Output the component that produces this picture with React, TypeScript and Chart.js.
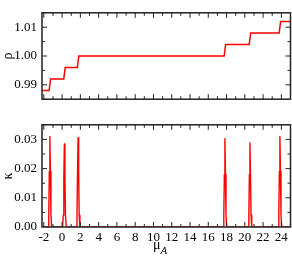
import React, { useEffect, useRef } from 'react';
import { Chart, registerables } from 'chart.js';

Chart.register(...registerables);

// ---- data ----
const rhoX = [-2.2, -1.42, -1.26, 0.18, 0.34, 1.67, 1.83, 17.74, 17.9, 20.48, 20.64, 23.76, 23.92, 25];
const rhoY = [0.988, 0.988, 0.992, 0.992, 0.996, 0.996, 1.0, 1.0, 1.004, 1.004, 1.008, 1.008, 1.012, 1.012];

const kappaX = [
  -2.2,
  -1.54, -1.46, -1.4, -1.34, -1.28, -1.22, -1.14,
  0.05, 0.13, 0.19, 0.25, 0.31, 0.37, 0.45,
  1.55, 1.63, 1.69, 1.75, 1.81, 1.87, 1.95,
  17.62, 17.7, 17.76, 17.82, 17.88, 17.94, 18.02,
  20.36, 20.44, 20.5, 20.56, 20.62, 20.68, 20.76,
  23.64, 23.72, 23.78, 23.84, 23.9, 23.96, 24.04,
  25,
];
const kappaY = [
  0,
  0, 0.004, 0.019, 0.031, 0.019, 0.004, 0,
  0, 0.004, 0.017, 0.0284, 0.017, 0.004, 0,
  0, 0.004, 0.019, 0.0306, 0.019, 0.004, 0,
  0, 0.004, 0.018, 0.0302, 0.018, 0.004, 0,
  0, 0.004, 0.018, 0.0288, 0.018, 0.004, 0,
  0, 0.004, 0.019, 0.031, 0.019, 0.004, 0,
  0,
];

const xMinVal = -2.2;
const xMaxVal = 25;
const xMajorTicks = [-2, 0, 2, 4, 6, 8, 10, 12, 14, 16, 18, 20, 22, 24];
const xMinorTicks = [-1, 1, 3, 5, 7, 9, 11, 13, 15, 17, 19, 21, 23];

const rhoMin = 0.985;
const rhoMax = 1.015;
const rhoTicks = [0.99, 1.0, 1.01];
const rhoMinor = [0.995, 1.005];

const kappaMin = 0;
const kappaMax = 0.035;
const kappaTicks = [0, 0.01, 0.02, 0.03];
const kappaMinor = [0.005, 0.015, 0.025];

const FONT = "'Liberation Serif', 'Times New Roman', serif";
const RED = '#ff0000';

function framePlugin(xMaj: number[], xMin: number[], yMaj: number[], yMin: number[]) {
  return {
    id: 'frame',
    afterDatasetsDraw(chart: any) {
      const { ctx, chartArea: a, scales } = chart;
      const xs = scales.x;
      const ys = scales.y;
      ctx.save();
      ctx.strokeStyle = '#222';
      ctx.lineWidth = 1;
      ctx.beginPath();
      const xt = (vals: number[], len: number) => {
        vals.forEach((v) => {
          const p = xs.getPixelForValue(v);
          if (p <= a.left + 1 || p >= a.right - 1) return;
          ctx.moveTo(p, a.bottom);
          ctx.lineTo(p, a.bottom - len);
          ctx.moveTo(p, a.top);
          ctx.lineTo(p, a.top + len);
        });
      };
      const yt = (vals: number[], len: number) => {
        vals.forEach((v) => {
          const p = ys.getPixelForValue(v);
          if (p <= a.top + 1 || p >= a.bottom - 1) return;
          ctx.moveTo(a.left, p);
          ctx.lineTo(a.left + len, p);
          ctx.moveTo(a.right, p);
          ctx.lineTo(a.right - len, p);
        });
      };
      xt(xMaj, 5);
      xt(xMin, 3);
      yt(yMaj, 5);
      yt(yMin, 3);
      ctx.stroke();
      ctx.lineWidth = 1.5;
      ctx.strokeRect(a.left, a.top, a.right - a.left, a.bottom - a.top);
      ctx.restore();
    },
  };
}

function makePoints(xs: number[], ys: number[]) {
  return xs.map((x, i) => ({ x, y: ys[i] }));
}

export default function App() {
  const topRef = useRef<HTMLCanvasElement>(null);
  const botRef = useRef<HTMLCanvasElement>(null);

  useEffect(() => {
    const tickFont = { family: FONT, size: 13 };
    const titleFont = { family: FONT, size: 14 };

    const top = new Chart(topRef.current!, {
      type: 'line',
      data: {
        datasets: [
          {
            data: makePoints(rhoX, rhoY),
            borderColor: RED,
            borderWidth: 1.5,
            pointRadius: 0,
            tension: 0,
            fill: false,
          },
        ],
      },
      options: {
        responsive: false,
        animation: false,
        layout: { padding: { top: 1.5, right: 1.5, bottom: 5, left: 0 } },
        plugins: { legend: { display: false }, tooltip: { enabled: false } },
        scales: {
          x: { type: 'linear', min: xMinVal, max: xMaxVal, display: false },
          y: {
            type: 'linear',
            min: rhoMin,
            max: rhoMax,
            afterBuildTicks: (s: any) => {
              s.ticks = rhoTicks.map((value) => ({ value }));
            },
            afterFit: (s: any) => {
              s.width = 42;
            },
            ticks: {
              font: tickFont,
              color: '#000',
              padding: 5,
              callback: (v: any) => Number(v).toFixed(2),
            },
            grid: { display: false, drawTicks: false },
            border: { display: false },
            title: { display: true, text: 'ρ', font: titleFont, color: '#000', padding: 0 },
          },
        },
      },
      plugins: [framePlugin(xMajorTicks, xMinorTicks, rhoTicks, rhoMinor)],
    } as any);

    const bot = new Chart(botRef.current!, {
      type: 'line',
      data: {
        datasets: [
          {
            data: makePoints(kappaX, kappaY),
            borderColor: RED,
            borderWidth: 1.4,
            borderJoinStyle: 'round',
            pointRadius: 0,
            tension: 0,
            fill: false,
          },
        ],
      },
      options: {
        responsive: false,
        animation: false,
        layout: { padding: { top: 9.5, right: 1.5, bottom: 0, left: 0 } },
        plugins: { legend: { display: false }, tooltip: { enabled: false } },
        scales: {
          x: {
            type: 'linear',
            min: xMinVal,
            max: xMaxVal,
            afterBuildTicks: (s: any) => {
              s.ticks = xMajorTicks.map((value) => ({ value }));
            },
            afterFit: (s: any) => {
              s.height = 30;
            },
            ticks: {
              font: tickFont,
              color: '#000',
              padding: 3,
              maxRotation: 0,
              autoSkip: false,
              callback: (v: any) => String(v),
            },
            grid: { display: false, drawTicks: false },
            border: { display: false },
          },
          y: {
            type: 'linear',
            min: kappaMin,
            max: kappaMax,
            afterBuildTicks: (s: any) => {
              s.ticks = kappaTicks.map((value) => ({ value }));
            },
            afterFit: (s: any) => {
              s.width = 42;
            },
            ticks: {
              font: tickFont,
              color: '#000',
              padding: 5,
              callback: (v: any) => Number(v).toFixed(2),
            },
            grid: { display: false, drawTicks: false },
            border: { display: false },
            title: { display: true, text: 'κ', font: titleFont, color: '#000', padding: 0 },
          },
        },
      },
      plugins: [framePlugin(xMajorTicks, xMinorTicks, kappaTicks, kappaMinor)],
    } as any);

    return () => {
      top.destroy();
      bot.destroy();
    };
  }, []);

  return (
    <div
      style={{
        position: 'fixed',
        left: 0,
        top: 0,
        width: 292,
        height: 257,
        background: '#fff',
        overflow: 'hidden',
      }}
    >
      <canvas
        ref={topRef}
        width={292}
        height={112}
        style={{ position: 'absolute', left: 0, top: 0, width: 292, height: 112 }}
      />
      <canvas
        ref={botRef}
        width={292}
        height={145}
        style={{ position: 'absolute', left: 0, top: 112, width: 292, height: 145 }}
      />
      <div
        style={{
          position: 'absolute',
          left: 153,
          top: 238,
          fontFamily: FONT,
          fontSize: 14,
          lineHeight: '14px',
          color: '#000',
          whiteSpace: 'nowrap',
        }}
      >
        μ
        <span style={{ fontSize: 11, fontStyle: 'italic', position: 'relative', top: 5 }}>A</span>
      </div>
    </div>
  );
}
